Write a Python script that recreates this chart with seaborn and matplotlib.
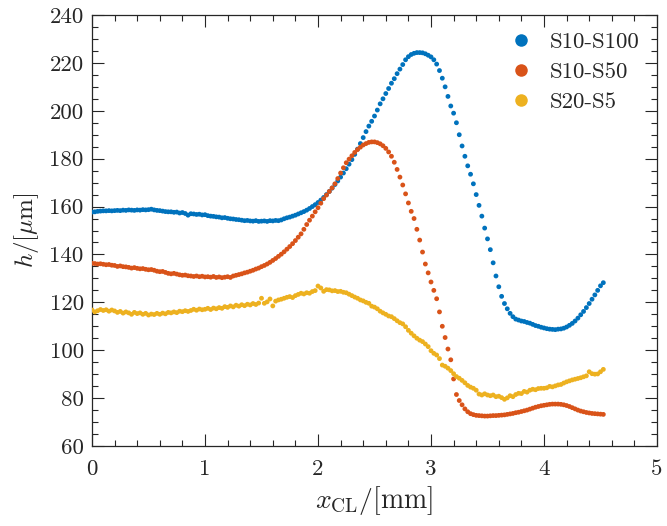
import numpy as np
import pandas as pd
import matplotlib
matplotlib.use("Agg")
import matplotlib.pyplot as plt
from matplotlib.ticker import MultipleLocator
import seaborn as sns

# ---------------- data ----------------
series_names = ["S10-S100", "S10-S50", "S20-S5"]
colors = ["#0072BD", "#D95319", "#EDB120"]

x_start, x_step = 0.0, 0.025   # x_CL in mm, 182 samples (0 .. 4.525)

h_s10_s100 = [
    157.7, 157.8, 158.0, 158.1, 158.2, 158.2, 158.3, 158.2,
    158.3, 158.4, 158.3, 158.5, 158.4, 158.6, 158.5, 158.4,
    158.6, 158.5, 158.7, 158.6, 158.7, 158.9, 158.6, 158.4,
    158.3, 158.1, 157.9, 157.8, 157.8, 157.6, 157.7, 157.3,
    157.5, 157.1, 156.4, 157.0, 156.9, 156.7, 156.8, 156.5,
    156.6, 156.2, 156.0, 155.9, 155.7, 155.6, 155.3, 155.4,
    155.1, 154.9, 154.8, 154.6, 154.5, 154.3, 154.1, 154.2,
    154.0, 153.9, 154.1, 153.8, 153.9, 154.0, 153.8, 154.1,
    154.0, 154.2, 154.1, 154.4, 154.9, 155.3, 155.6, 156.0,
    156.4, 156.9, 157.4, 157.9, 158.5, 159.2, 160.0, 160.8,
    161.7, 162.7, 163.8, 165.0, 166.3, 167.7, 169.2, 170.7,
    172.3, 174.0, 175.8, 177.7, 179.6, 181.8, 184.0, 186.3,
    188.8, 191.3, 193.6, 195.6, 197.8, 200.3, 202.9, 205.0,
    207.2, 209.3, 211.5, 213.4, 215.5, 217.4, 219.3, 221.3,
    222.6, 223.5, 224.0, 224.3, 224.3, 224.2, 223.8, 223.2,
    222.5, 221.3, 219.5, 216.8, 213.6, 210.0, 206.0, 202.0,
    199.0, 195.0, 190.0, 185.3, 181.0, 177.0, 173.5, 169.5,
    165.0, 160.5, 156.0, 151.0, 146.5, 142.0, 136.5, 131.0,
    126.5, 122.5, 119.5, 117.3, 115.4, 114.0, 113.0, 112.6,
    112.2, 112.0, 111.6, 111.3, 110.8, 110.3, 110.0, 109.6,
    109.3, 109.0, 108.8, 108.7, 108.6, 108.8, 108.9, 109.2,
    109.7, 110.4, 111.2, 112.2, 113.4, 114.8, 116.2, 117.8,
    119.5, 121.3, 123.1, 125.0, 126.9, 128.2,
]

h_s10_s50 = [
    136.3, 136.2, 136.0, 136.1, 135.9, 135.7, 135.8, 135.5,
    135.4, 135.0, 135.2, 134.9, 134.8, 134.6, 134.3, 134.5,
    134.2, 134.0, 134.1, 133.8, 133.6, 133.7, 133.4, 133.0,
    132.8, 132.9, 132.5, 132.1, 131.9, 132.1, 131.8, 131.5,
    131.3, 131.4, 131.1, 131.0, 130.8, 131.0, 130.7, 130.9,
    130.6, 130.7, 130.5, 130.8, 130.4, 130.6, 130.3, 130.5,
    130.7, 130.4, 131.0, 131.3, 131.6, 131.9, 132.3, 132.6,
    133.0, 133.4, 133.9, 134.3, 134.9, 135.4, 136.0, 136.7,
    137.5, 138.3, 139.2, 140.1, 141.1, 142.2, 143.3, 144.5,
    145.8, 147.2, 148.6, 150.5, 152.5, 154.3, 156.0, 157.8,
    159.5, 161.4, 163.3, 164.8, 166.3, 167.8, 169.5, 171.7,
    174.0, 176.2, 178.3, 179.8, 181.2, 182.6, 183.8, 184.8,
    185.7, 186.3, 186.8, 187.0, 187.0, 186.7, 186.2, 185.4,
    184.3, 182.8, 181.0, 178.5, 175.5, 172.3, 169.0, 165.3,
    161.5, 158.0, 155.0, 150.5, 146.0, 141.0, 136.0, 132.3,
    128.5, 125.0, 121.5, 116.0, 110.0, 105.3, 100.5, 96.0,
    88.0, 81.5, 79.0, 77.2, 75.5, 74.3, 73.5, 73.1,
    72.8, 72.7, 72.6, 72.5, 72.5, 72.6, 72.7, 72.7,
    72.8, 72.9, 73.0, 73.2, 73.4, 73.6, 73.9, 74.1,
    74.4, 74.7, 75.0, 75.4, 75.8, 76.2, 76.5, 76.8,
    77.0, 77.2, 77.4, 77.5, 77.5, 77.5, 77.4, 77.2,
    76.9, 76.5, 76.0, 75.5, 75.0, 74.6, 74.3, 74.0,
    73.8, 73.6, 73.5, 73.4, 73.3, 73.2,
]

h_s20_s5 = [
    116.8, 116.0, 116.5, 117.0, 116.6, 116.9, 116.3, 116.8,
    116.4, 115.8, 116.2, 115.5, 116.0, 115.6, 115.0, 115.8,
    115.3, 115.6, 115.0, 115.4, 114.7, 115.1, 114.9, 115.4,
    115.0, 115.5, 115.2, 115.8, 115.6, 116.0, 115.7, 116.3,
    116.1, 116.5, 116.2, 116.6, 117.1, 116.7, 117.2, 116.9,
    117.1, 117.5, 117.0, 117.6, 117.3, 117.8, 117.5, 118.2,
    117.9, 118.5, 118.1, 118.8, 118.4, 119.0, 118.6, 119.2,
    118.9, 119.5, 119.1, 119.7, 121.7, 119.6, 120.2, 121.4,
    118.5, 120.5, 121.0, 121.3, 121.7, 122.1, 122.4, 122.0,
    122.8, 123.3, 123.8, 123.5, 124.0, 123.8, 124.5, 124.9,
    126.8, 126.0, 124.6, 125.3, 125.2, 124.8, 124.9, 124.5,
    124.6, 124.2, 124.0, 123.4, 122.8, 122.2, 121.7, 121.0,
    120.6, 120.0, 119.6, 118.4, 118.0, 117.3, 116.3, 115.6,
    115.0, 114.3, 114.0, 113.2, 112.3, 111.5, 111.0, 109.8,
    108.3, 107.1, 106.0, 105.0, 104.2, 103.6, 102.6, 101.5,
    99.8, 98.7, 98.0, 96.5, 93.8, 93.3, 92.5, 91.5,
    90.2, 89.0, 88.3, 87.4, 86.4, 85.3, 84.6, 84.1,
    83.3, 81.7, 81.3, 81.8, 81.3, 81.0, 81.3, 80.6,
    80.8, 80.2, 79.5, 80.1, 81.0, 80.6, 81.5, 82.0,
    81.9, 82.8, 82.5, 83.3, 83.7, 83.5, 84.0, 84.1,
    84.1, 84.3, 84.9, 84.7, 85.1, 85.5, 85.7, 86.3,
    86.8, 87.2, 87.6, 87.9, 88.2, 88.5, 88.9, 89.3,
    91.0, 90.2, 90.0, 90.1, 91.0, 92.0,
]

x_ticks = [0, 1, 2, 3, 4, 5]
y_ticks = [60, 80, 100, 120, 140, 160, 180, 200, 220, 240]

# ---------------- table ----------------
frames = []
for name, vals in zip(series_names, [h_s10_s100, h_s10_s50, h_s20_s5]):
    n = len(vals)
    xs = x_start + x_step * np.arange(n)
    frames.append(pd.DataFrame({"x": xs, "h": vals, "series": name}))
df = pd.concat(frames, ignore_index=True)

# ---------------- style ----------------
sns.set_style("ticks")
plt.rcParams["font.family"] = ["cmr10", "DejaVu Serif"]
plt.rcParams["mathtext.fontset"] = "cm"
plt.rcParams["axes.formatter.use_mathtext"] = True
plt.rcParams["axes.edgecolor"] = "#262626"
plt.rcParams["xtick.color"] = "#262626"
plt.rcParams["ytick.color"] = "#262626"
plt.rcParams["text.color"] = "#262626"

fig = plt.figure(figsize=(6.67, 5.26), dpi=100)
ax = fig.add_axes([92 / 667, 1 - 446 / 526, (657 - 92) / 667, (446 - 15) / 526])

sns.scatterplot(data=df, x="x", y="h", hue="series", hue_order=series_names,
                palette=colors, s=12, linewidth=0, edgecolor="none",
                ax=ax, legend=True, zorder=3)

ax.set_xlim(0, 5)
ax.set_ylim(60, 240)
ax.set_xticks(x_ticks)
ax.set_yticks(y_ticks)
ax.set_xticklabels([str(t) for t in x_ticks])
ax.set_yticklabels([str(t) for t in y_ticks])
ax.xaxis.set_minor_locator(MultipleLocator(0.2))
ax.yaxis.set_minor_locator(MultipleLocator(5))
ax.tick_params(which="both", direction="in", top=True, right=True,
               width=0.8, labelsize=16.5)
ax.tick_params(which="major", length=8.5)
ax.tick_params(which="minor", length=4.3)
ax.tick_params(axis="x", which="major", pad=10)
ax.tick_params(axis="y", which="major", pad=6)
for sp in ax.spines.values():
    sp.set_linewidth(0.9)
    sp.set_visible(True)

ax.set_xlabel(r"$x_{\mathrm{CL}}/[\mathrm{mm}]$", fontsize=20, labelpad=3)
ax.set_ylabel(r"$h/[\mu\mathrm{m}]$", fontsize=18, labelpad=6)

handles, labels = ax.get_legend_handles_labels()
ax.legend(handles, labels, loc="upper right", frameon=False, fontsize=16.5,
          markerscale=2.6, handletextpad=0.65, labelspacing=0.42,
          borderaxespad=0.45, handlelength=1.2, borderpad=0.3)

fig.savefig("out.png", dpi=100)
